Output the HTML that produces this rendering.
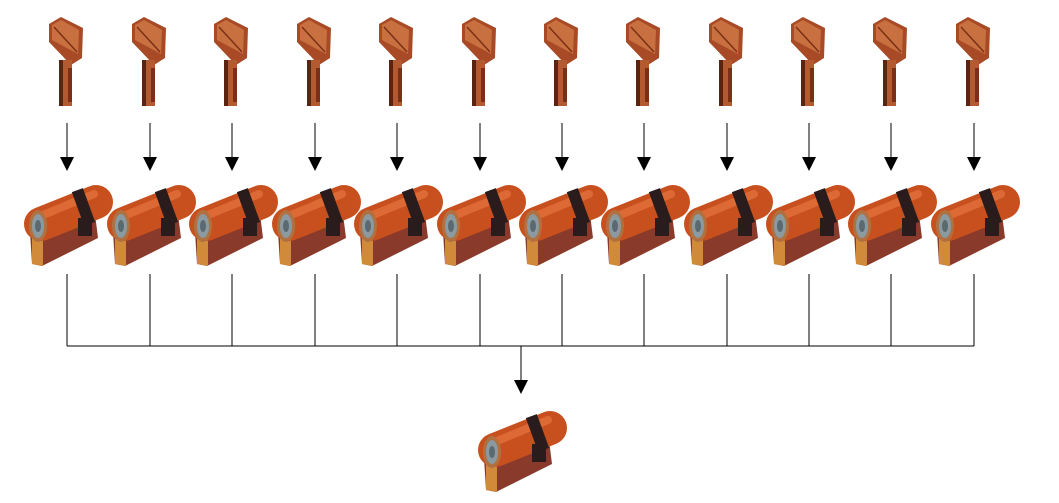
<!DOCTYPE html>
<html><head><meta charset="utf-8"><style>
html,body{margin:0;padding:0;background:#fff;}
svg{display:block}
</style></head><body>
<svg width="1059" height="503" viewBox="0 0 1059 503" xmlns="http://www.w3.org/2000/svg">
<defs>
<g id="key">
  <polygon points="-17,6 -5,-1 17,10 16,40 5,47 -17,24" fill="#a84a26"/>
  <polygon points="-14,7 -5,2 13,12 12,36 -14,22" fill="#c97040"/>
  <line x1="-12" y1="9" x2="11" y2="34" stroke="#7a3016" stroke-width="1.5"/>
  <rect x="-7" y="42" width="13" height="46" fill="#b35a30"/>
  <rect x="-7" y="42" width="4" height="46" fill="#5a2410"/>
  <rect x="2" y="50" width="4" height="34" fill="#7a3016"/>
</g>
<g id="cyl">
  <polygon points="2,54 66,28 70,60 14,88 4,86" fill="#8a3a2a"/>
  <polygon points="4,56 15,54 15,88 4,86" fill="#d08a3a"/>
  <line x1="13" y1="46" x2="68" y2="24" stroke="#c8501e" stroke-width="34" stroke-linecap="round"/>
  <line x1="15" y1="37" x2="66" y2="16" stroke="#dd6a34" stroke-width="8" stroke-linecap="round"/>
  <line x1="50" y1="31" x2="61" y2="27" stroke="#2a1c1c" stroke-width="36"/>
  <rect x="50" y="40" width="14" height="18" fill="#2a1c1c"/>
  <ellipse cx="10" cy="48" rx="9" ry="16" fill="#b07040"/>
  <ellipse cx="10" cy="48" rx="6" ry="12" fill="#8a9aa0"/>
  <ellipse cx="10" cy="48" rx="3" ry="6" fill="#5a6a70"/>
</g>
<g id="col">
  <use href="#key" x="-1" y="18"/>
  <line x1="0" y1="123" x2="0" y2="157" stroke="#000" stroke-width="1"/>
  <path d="M-7,157 L7,157 L0,171 z" fill="#000"/>
  <use href="#cyl" x="-39" y="178"/>
  <line x1="0" y1="274" x2="0" y2="346" stroke="#000" stroke-width="1"/>
</g>
</defs>
<line x1="67" y1="346" x2="974" y2="346" stroke="#000" stroke-width="1"/>
<line x1="521" y1="346" x2="521" y2="380" stroke="#000" stroke-width="1"/>
<path d="M514,380 L528,380 L521,394 z" fill="#000"/>
<use href="#col" x="67" y="0"/>
<use href="#col" x="150" y="0"/>
<use href="#col" x="232" y="0"/>
<use href="#col" x="315" y="0"/>
<use href="#col" x="397" y="0"/>
<use href="#col" x="480" y="0"/>
<use href="#col" x="562" y="0"/>
<use href="#col" x="644" y="0"/>
<use href="#col" x="727" y="0"/>
<use href="#col" x="809" y="0"/>
<use href="#col" x="891" y="0"/>
<use href="#col" x="974" y="0"/>
<use href="#cyl" x="482" y="404"/>
</svg>
</body></html>
